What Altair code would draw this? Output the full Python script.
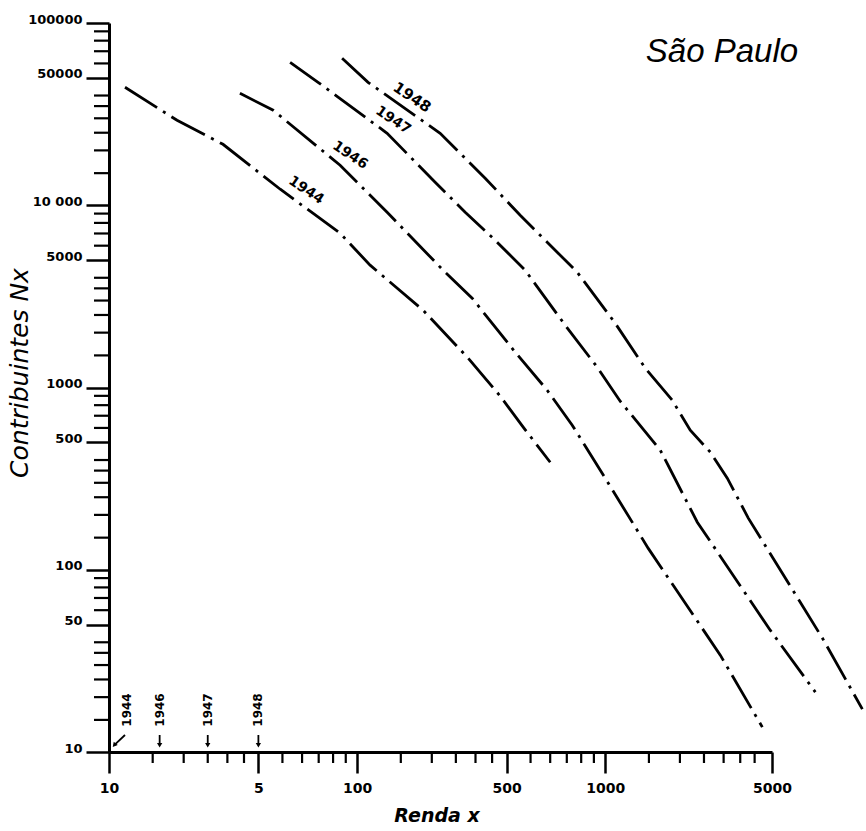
import altair as alt
import pandas as pd

# ---------------- data ----------------
years = ["1944", "1946", "1947", "1948"]

x_1944 = [11.6, 18.8, 28.8, 49.0, 85.4, 112.8, 184.5, 280.4, 377.6, 467, 600]
y_1944 = [44400, 29250, 21600, 12240, 7020, 4690, 2655, 1448, 896, 606, 389]

x_1946 = [33.7, 45.9, 85.4, 132.1, 222.2, 290.9, 433.6, 583.6, 736.2, 1000, 1491, 2909, 4296]
y_1946 = [41150, 33200, 16570, 9155, 4400, 3090, 1562, 966, 621, 318, 131, 34.0, 13.7]

x_1947 = [53.7, 69.6, 132.1, 206.3, 272.6, 360.1, 475.6, 689.7, 928.6, 1149, 1667, 2350, 4624, 7028]
y_1947 = [60870, 47280, 24830, 13375, 9155, 6427, 4400, 2196, 1292, 841, 453, 182.4, 46.6, 21.3]

x_1948 = [87.0, 110.7, 216.1, 328.2, 454.2, 573, 771, 1097, 1450, 1862, 2201, 2651, 3104, 3772, 7499, 10870]
y_1948 = [64030, 47280, 24830, 14065, 8814, 6427, 4290, 2252, 1276, 852, 583, 442, 318, 192, 42.2, 17.2]

# year labels along the curves
label_x = [62.3, 93.7, 139.7, 166.7]
label_y = [12085, 18800, 29260, 39120]

# lower income limits marked by arrows on the x axis
limit_text_x = [11.8, 16, 25, 40]
limit_text_y = [17.0, 17.0, 17.0, 17.0]
arrow_x0 = [11.6, 16, 25, 40]
arrow_x1 = [10.5, 16, 25, 40]
arrow_y0 = [12.4, 12.4, 12.4, 12.4]
arrow_y1 = [10.9, 10.9, 10.9, 10.9]
arrow_angle = [40, 0, 0, 0]

# axes
x_major = [10, 40, 100, 400, 1000, 4700]
x_major_labels = ["10", "5", "100", "500", "1000", "5000"]
x_minor = [15, 20, 25, 30, 35, 50, 60, 70, 80, 90,
           150, 200, 250, 300, 350, 500, 600, 700, 800, 900,
           1500, 2000, 2500, 3000, 3500, 4000]

y_major = [10, 50, 100, 500, 1000, 5000, 10000, 50000, 100000]
y_major_labels = ["10", "50", "100", "500", "1000", "5000", "10 000", "50000", "100000"]
y_minor = [15, 20, 25, 30, 35, 40, 60, 70, 80, 90,
           150, 200, 250, 300, 350, 400, 600, 700, 800, 900,
           1500, 2000, 2500, 3000, 3500, 4000, 6000, 7000, 8000, 9000,
           15000, 20000, 25000, 30000, 35000, 40000, 60000, 70000, 80000, 90000]

title_text = ["São Paulo"]
x_title = ["Renda x"]
y_title = ["Contribuintes Nx"]

# ---------------- tables ----------------
rows = []
for yr, xs, ys in [("1944", x_1944, y_1944), ("1946", x_1946, y_1946),
                   ("1947", x_1947, y_1947), ("1948", x_1948, y_1948)]:
    for i, (a, b) in enumerate(zip(xs, ys)):
        rows.append({"year": yr, "x": a, "y": b, "order": i})
curves = pd.DataFrame(rows)

labels_df = pd.DataFrame({"year": years, "x": label_x, "y": label_y})
limits_df = pd.DataFrame({"year": years, "x": limit_text_x, "y": limit_text_y,
                          "ax0": arrow_x0, "ax1": arrow_x1, "ay0": arrow_y0,
                          "ay1": arrow_y1, "ang": arrow_angle})
xminor_df = pd.DataFrame({"v": x_minor})
yminor_df = pd.DataFrame({"v": y_minor})

W, H = 663, 729

xscale = alt.Scale(type="log", domain=[10, 4700], nice=False)
yscale = alt.Scale(type="log", domain=[10, 100000], nice=False)


def expr_from(values, labels):
    parts = [f"datum.value == {v} ? '{l}'" for v, l in zip(values, labels)]
    return " : ".join(parts) + " : ''"


xaxis = alt.Axis(values=x_major, labelExpr=expr_from(x_major, x_major_labels),
                 title=None, grid=False, tickSize=21, tickWidth=2.5, tickColor="black",
                 domainWidth=3, domainColor="black", labelFont="DejaVu Sans",
                 labelFontWeight="bold", labelFontSize=14, labelColor="black",
                 labelPadding=8, labelFlush=False, labelOverlap=False)
yaxis = alt.Axis(values=y_major, labelExpr=expr_from(y_major, y_major_labels),
                 title=None, grid=False, tickSize=23, tickWidth=2.5, tickColor="black",
                 domainWidth=3, domainColor="black", labelFont="DejaVu Sans",
                 labelFontWeight="bold", labelFontSize=13, labelColor="black",
                 labelPadding=4, labelBaseline="alphabetic", labelFlush=False,
                 labelOverlap=False)


def X(field):
    return alt.X(field, scale=xscale, axis=xaxis)


def Y(field):
    return alt.Y(field, scale=yscale, axis=yaxis)


lines = alt.Chart(curves).mark_line(
    color="black", strokeWidth=2.8, strokeDash=[38, 7, 3, 7], strokeCap="butt"
).encode(
    x=X("x:Q"),
    y=Y("y:Q"),
    detail="year:N",
    order="order:Q",
)

year_labels = alt.Chart(labels_df).mark_text(
    angle=34, font="DejaVu Sans", fontWeight="bold", color="black",
    align="center", baseline="middle"
).encode(
    x=X("x:Q"),
    y=Y("y:Q"),
    text="year:N",
    size=alt.condition("datum.year == '1948'", alt.value(15), alt.value(14)),
)

limit_text = alt.Chart(limits_df).mark_text(
    angle=270, font="DejaVu Sans", fontWeight="bold", fontSize=12, color="black",
    align="center", baseline="middle"
).encode(
    x=X("x:Q"),
    y=Y("y:Q"),
    text="year:N",
)

arrows = alt.Chart(limits_df).mark_rule(color="black", strokeWidth=1.8).encode(
    x=X("ax0:Q"),
    x2="ax1:Q",
    y=Y("ay0:Q"),
    y2="ay1:Q",
)

heads = alt.Chart(limits_df).mark_point(
    shape="triangle-down", filled=True, color="black", size=28, opacity=1
).encode(
    x=X("ax1:Q"),
    y=Y("ay1:Q"),
    angle=alt.Angle("ang:Q", scale=None),
)

xminor = alt.Chart(xminor_df).mark_rule(color="black", strokeWidth=2.2).encode(
    x=X("v:Q"),
    y=alt.value(H), y2=alt.value(H + 11),
)

yminor = alt.Chart(yminor_df).mark_rule(color="black", strokeWidth=2.2).encode(
    y=Y("v:Q"),
    x=alt.value(-15), x2=alt.value(0),
)

title_mark = alt.Chart(pd.DataFrame({"t": title_text})).mark_text(
    font="Liberation Sans", fontStyle="italic", fontSize=33, color="black",
    align="center", baseline="alphabetic"
).encode(text="t:N", x=alt.value(613), y=alt.value(39))

xtitle_mark = alt.Chart(pd.DataFrame({"t": x_title})).mark_text(
    font="DejaVu Sans", fontStyle="italic", fontWeight="bold", fontSize=19,
    color="black", align="center", baseline="alphabetic"
).encode(text="t:N", x=alt.value(328), y=alt.value(799))

ytitle_mark = alt.Chart(pd.DataFrame({"t": y_title})).mark_text(
    font="DejaVu Sans", fontStyle="italic", fontSize=25, color="black",
    align="center", baseline="middle", angle=270
).encode(text="t:N", x=alt.value(-89), y=alt.value(350))

chart = alt.layer(
    lines, year_labels, limit_text, arrows, heads, xminor, yminor,
    title_mark, xtitle_mark, ytitle_mark
).properties(
    width=W, height=H,
    padding={"left": 109, "top": 23, "right": 94, "bottom": 79},
    autosize=alt.AutoSizeParams(type="none"),
    background="white",
).configure_view(stroke=None)

chart.save("out.html", embed_options={"renderer": "svg", "actions": False})
